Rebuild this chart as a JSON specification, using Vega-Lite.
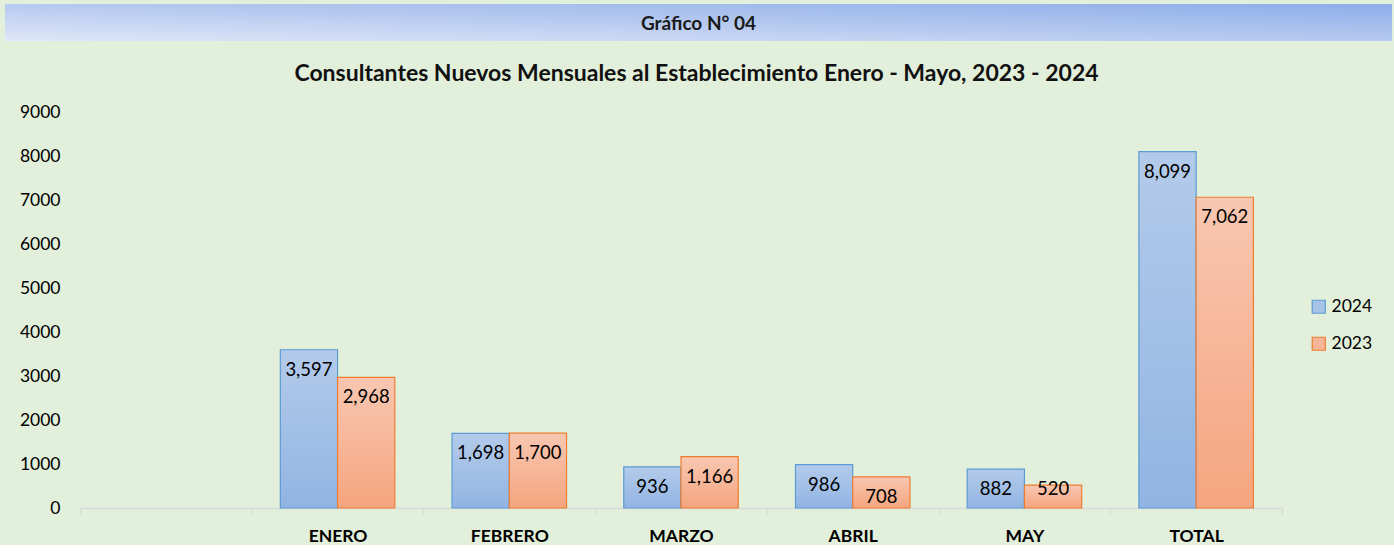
{
  "$schema": "https://vega.github.io/schema/vega-lite/v6.json",
  "background": "#e2efda",
  "padding": {"left": 5, "top": 4, "right": 2, "bottom": 0},
  "spacing": 22,
  "config": {
    "view": {"stroke": null},
    "font": "Lato"
  },
  "vconcat": [
    {
      "width": 1387,
      "height": 37,
      "data": {"values": [{"label": "Gráfico N° 04"}]},
      "layer": [
        {
          "mark": {
            "type": "rect",
            "fill": {
              "gradient": "linear",
              "x1": 0, "y1": 1, "x2": 1, "y2": 0,
              "stops": [
                {"offset": 0, "color": "#dfe7f8"},
                {"offset": 0.5, "color": "#b5c9ef"},
                {"offset": 1, "color": "#8dadea"}
              ]
            }
          },
          "encoding": {}
        },
        {
          "mark": {"type": "text", "fontSize": 19, "fontWeight": "bold", "color": "#1a1a1a", "baseline": "middle", "align": "center", "dy": 1},
          "encoding": {"text": {"field": "label"}}
        }
      ]
    },
    {
      "width": 1277,
      "height": 396,
      "title": {
        "text": "Consultantes Nuevos Mensuales al Establecimiento Enero - Mayo, 2023 - 2024",
        "fontSize": 23,
        "fontWeight": "bold",
        "color": "#111111",
        "anchor": "middle",
        "frame": "group",
        "dx": 53,
        "offset": 17
      },
      "data": {
        "values": [
          {"month": "ENERO", "year": "2024", "value": 3597},
          {"month": "ENERO", "year": "2023", "value": 2968},
          {"month": "FEBRERO", "year": "2024", "value": 1698},
          {"month": "FEBRERO", "year": "2023", "value": 1700},
          {"month": "MARZO", "year": "2024", "value": 936},
          {"month": "MARZO", "year": "2023", "value": 1166},
          {"month": "ABRIL", "year": "2024", "value": 986},
          {"month": "ABRIL", "year": "2023", "value": 708},
          {"month": "MAY", "year": "2024", "value": 882},
          {"month": "MAY", "year": "2023", "value": 520},
          {"month": "TOTAL", "year": "2024", "value": 8099},
          {"month": "TOTAL", "year": "2023", "value": 7062}
        ]
      },
      "encoding": {
        "x": {
          "field": "month",
          "type": "nominal",
          "sort": null,
          "scale": {
            "domain": [" ", "ENERO", "FEBRERO", "MARZO", "ABRIL", "MAY", "TOTAL"],
            "range": [75, 1277],
            "paddingInner": 0,
            "paddingOuter": 0
          },
          "axis": {
            "title": null,
            "labelAngle": 0,
            "labelFontSize": 17.5,
            "labelFontWeight": "bold",
            "labelColor": "#000000",
            "labelPadding": 13,
            "domainColor": "#d9d9d9",
            "domainWidth": 1.5,
            "tickColor": "#d9d9d9",
            "tickBand": "extent",
            "tickSize": 6,
            "tickWidth": 1.5
          }
        },
        "xOffset": {
          "field": "year",
          "type": "nominal",
          "scale": {"domain": ["2024", "2023"], "paddingInner": 0, "paddingOuter": 0.5}
        },
        "y": {
          "field": "value",
          "type": "quantitative",
          "scale": {"domain": [0, 9000]},
          "axis": {
            "title": null,
            "grid": false,
            "domain": false,
            "ticks": false,
            "offset": -75,
            "values": [0, 1000, 2000, 3000, 4000, 5000, 6000, 7000, 8000, 9000],
            "format": "d",
            "labelFontSize": 17.5,
            "labelColor": "#000000",
            "labelPadding": 20
          }
        }
      },
      "layer": [
        {
          "transform": [{"filter": "datum.year === '2024'"}],
          "mark": {
            "type": "bar",
            "strokeWidth": 1.2,
            "fill": {"gradient": "linear", "x1": 0, "y1": 0, "x2": 0, "y2": 1, "stops": [{"offset": 0, "color": "#b3cbea"}, {"offset": 1, "color": "#92b4e3"}]}
          },
          "encoding": {
            "stroke": {
              "field": "year",
              "type": "nominal",
              "scale": {"domain": ["2024", "2023"], "range": ["#5b9bd5", "#ed7d31"]}
            }
          }
        },
        {
          "transform": [{"filter": "datum.year === '2023'"}],
          "mark": {
            "type": "bar",
            "strokeWidth": 1.2,
            "fill": {"gradient": "linear", "x1": 0, "y1": 0, "x2": 0, "y2": 1, "stops": [{"offset": 0, "color": "#f8c7b1"}, {"offset": 1, "color": "#f5a57f"}]}
          },
          "encoding": {
            "stroke": {
              "field": "year",
              "type": "nominal",
              "scale": {"domain": ["2024", "2023"], "range": ["#5b9bd5", "#ed7d31"]}
            }
          }
        },
        {
          "mark": {"type": "point", "shape": "square", "filled": true, "opacity": 0},
          "encoding": {
            "fill": {
              "field": "year",
              "type": "nominal",
              "scale": {"domain": ["2024", "2023"], "range": ["#a8c3e8", "#f6b596"]},
              "legend": {
                "title": null,
                "orient": "none",
                "legendX": 1305,
                "legendY": 294,
                "symbolType": "square",
                "symbolSize": 170,
                "symbolStrokeWidth": 1.2,
                "symbolOpacity": 1,
                "labelFontSize": 17.5,
                "labelColor": "#000000",
                "rowPadding": 18,
                "labelOffset": 4
              }
            },
            "stroke": {
              "field": "year",
              "type": "nominal",
              "scale": {"domain": ["2024", "2023"], "range": ["#5b9bd5", "#ed7d31"]}
            }
          }
        },
        {
          "transform": [{"filter": "datum.value >= 600"}],
          "mark": {"type": "text", "fontSize": 18.5, "color": "#000000", "baseline": "middle", "align": "center", "dy": 20},
          "encoding": {
            "text": {"field": "value", "type": "quantitative", "format": ","}
          }
        },
        {
          "transform": [{"filter": "datum.value < 600"}],
          "mark": {"type": "text", "fontSize": 18.5, "color": "#000000", "baseline": "middle", "align": "center", "dy": 4},
          "encoding": {
            "text": {"field": "value", "type": "quantitative", "format": ","}
          }
        }
      ]
    }
  ]
}
